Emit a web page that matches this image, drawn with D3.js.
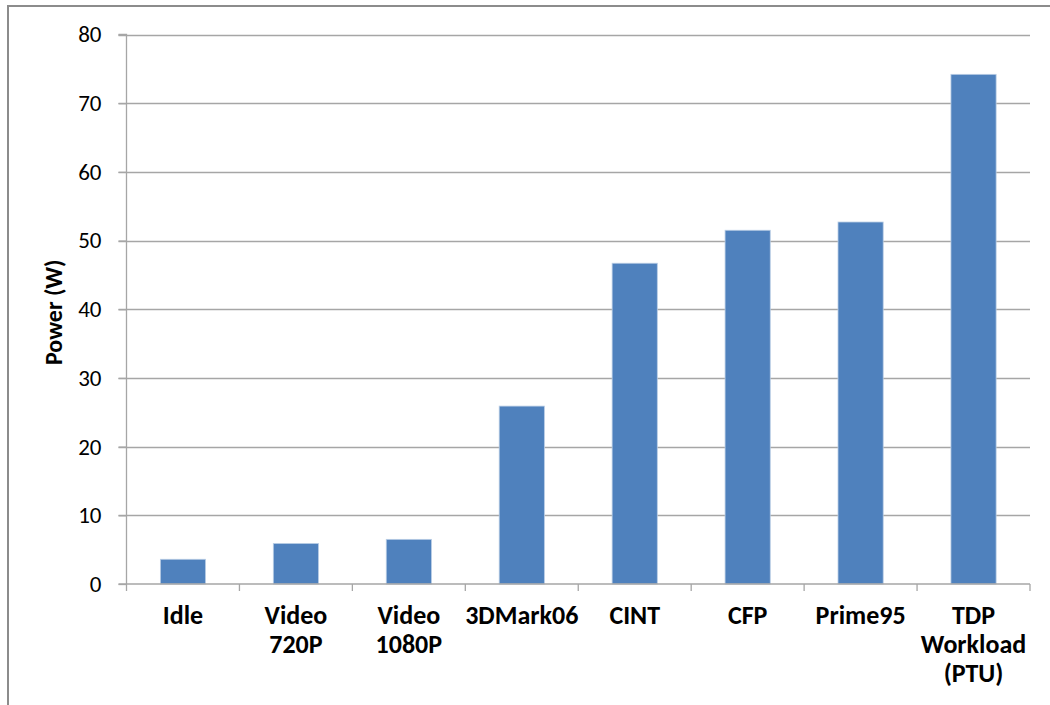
<!DOCTYPE html>
<html><head><meta charset="utf-8">
<script src="https://cdn.jsdelivr.net/npm/d3@7"></script>
<style>body{margin:0;background:#fff}svg{display:block}</style>
</head><body>
<script>
const categories = [["Idle"],["Video","720P"],["Video","1080P"],["3DMark06"],["CINT"],["CFP"],["Prime95"],["TDP","Workload","(PTU)"]];
const values = [3.6, 5.9, 6.5, 25.9, 46.7, 51.5, 52.7, 74.2];
const yTicks = [0,10,20,30,40,50,60,70,80];
const yTitle = "Power (W)";

const W = 1050, H = 705;
const svg = d3.select("body").append("svg").attr("width", W).attr("height", H);
const font = "Carlito, Calibri, Lato, sans-serif";

// outer frame
svg.append("rect").attr("x", 8).attr("y", 6).attr("width", 1100).attr("height", 800)
  .attr("fill", "none").attr("stroke", "#8c8c8c").attr("stroke-width", 2);

const m = {left: 126.5, right: 1030, top: 34.5, bottom: 584};
const x = d3.scaleBand().domain(d3.range(categories.length)).range([m.left, m.right]).paddingInner(0.6).paddingOuter(0.3);
const xb = d3.scaleBand().domain(d3.range(categories.length)).range([m.left, m.right]);
const y = d3.scaleLinear().domain([0, 80]).range([m.bottom, m.top]);

// gridlines
svg.append("g").selectAll("line").data(yTicks.filter(d => d > 0)).join("line")
  .attr("x1", m.left - 8).attr("x2", m.right)
  .attr("y1", d => Math.round(y(d)) + 0.5).attr("y2", d => Math.round(y(d)) + 0.5)
  .attr("stroke", "#a6a6a6").attr("stroke-width", 1.3);

// bars
svg.append("g").selectAll("rect").data(values).join("rect")
  .attr("x", (d, i) => x(i)).attr("width", x.bandwidth())
  .attr("y", d => y(d)).attr("height", d => y(0) - y(d))
  .attr("fill", "#4f81bd").attr("stroke", "#b9cde5").attr("stroke-width", 0.8);

// y axis
const yAxis = svg.append("g").attr("transform", `translate(${m.left},0)`)
  .call(d3.axisLeft(y).tickValues(yTicks).tickSize(8).tickPadding(17).tickFormat(d3.format("d")));
yAxis.select(".domain").attr("stroke", "#a6a6a6").attr("stroke-width", 1.3).attr("d", `M-8,${m.top}H0V${m.bottom}`);
yAxis.selectAll(".tick line").attr("stroke", "#a6a6a6").attr("stroke-width", 1.3);
yAxis.selectAll("text").attr("font-family", font).attr("font-size", 23).attr("fill", "#000");

// x axis
const xAxisG = svg.append("g").attr("transform", `translate(0,${m.bottom})`);
xAxisG.append("line").attr("x1", m.left - 8).attr("x2", m.right).attr("y1", 0).attr("y2", 0)
  .attr("stroke", "#a6a6a6").attr("stroke-width", 1.5);
xAxisG.selectAll("line.tk").data(d3.range(categories.length + 1)).join("line").attr("class", "tk")
  .attr("x1", i => i < categories.length ? xb(i) : m.right)
  .attr("x2", i => i < categories.length ? xb(i) : m.right)
  .attr("y1", 0).attr("y2", 7).attr("stroke", "#a6a6a6").attr("stroke-width", 1.3);

const lab = svg.append("g").selectAll("text").data(categories).join("text")
  .attr("text-anchor", "middle").attr("font-family", font).attr("font-size", 26).attr("font-weight", "bold")
  .attr("fill", "#000")
  .attr("transform", (d, i) => `translate(${xb(i) + xb.bandwidth() / 2},624)`);
lab.selectAll("tspan").data(d => d).join("tspan")
  .attr("x", 0).attr("dy", (d, j) => j === 0 ? 0 : 29).text(d => d);

// y title
svg.append("text").attr("transform", `translate(62,${(m.top + m.bottom) / 2 + 3}) rotate(-90)`)
  .attr("text-anchor", "middle").attr("font-family", font).attr("font-size", 24).attr("font-weight", "bold")
  .text(yTitle);
</script>
</body></html>
